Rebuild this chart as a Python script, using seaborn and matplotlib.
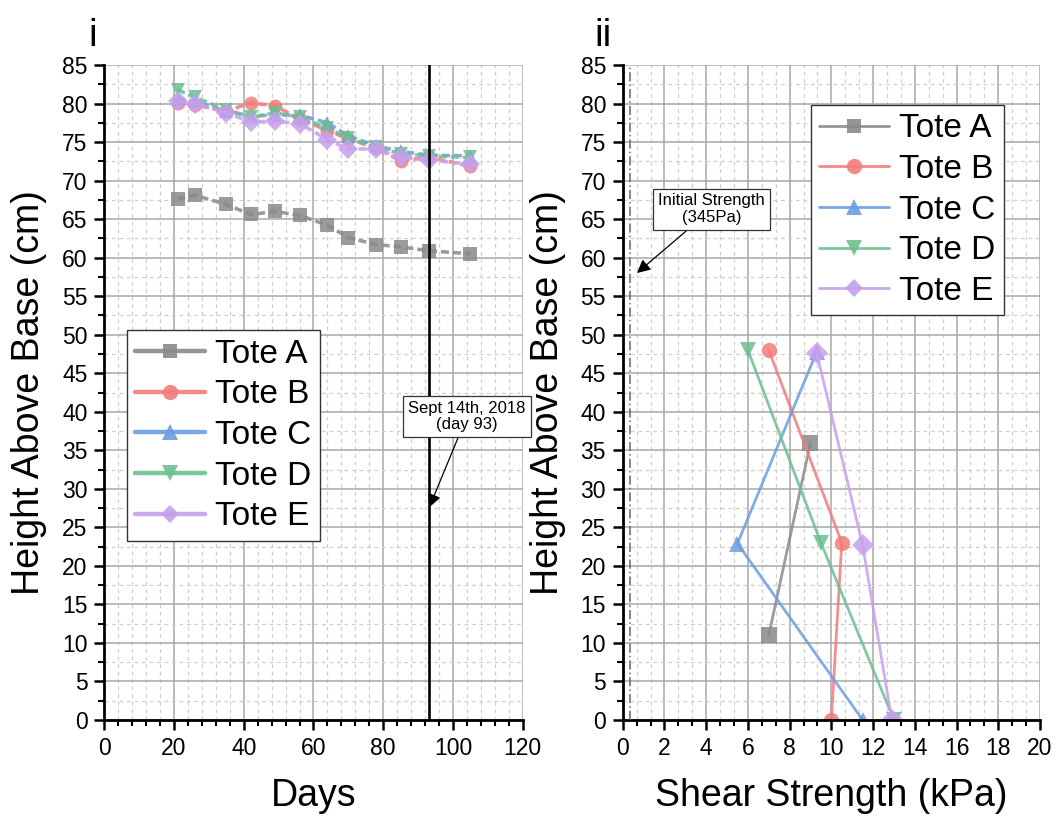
import numpy as np
import pandas as pd
import matplotlib
matplotlib.use("Agg")
import matplotlib.pyplot as plt
from matplotlib.lines import Line2D
from matplotlib.ticker import MultipleLocator, AutoMinorLocator
import seaborn as sns

# ---- data -----------------------------------------------------------------
totes = ["Tote A", "Tote B", "Tote C", "Tote D", "Tote E"]

days = [21, 26, 35, 42, 49, 56, 64, 70, 78, 85, 93, 105]
height_a = [67.6, 68.1, 66.9, 65.6, 66.0, 65.5, 64.2, 62.6, 61.7, 61.4, 60.9, 60.5]
height_b = [80.1, 79.8, 79.0, 80.1, 79.7, 78.0, 76.5, 75.4, 74.2, 72.6, 73.0, 71.9]
height_c = [80.6, 80.3, 79.0, 78.4, 78.5, 78.5, 77.5, 75.8, 74.5, 73.8, 73.3, 73.2]
height_d = [81.8, 80.8, 79.2, 78.2, 78.8, 78.2, 76.8, 75.5, 74.3, 73.5, 73.2, 73.0]
height_e = [80.3, 80.0, 78.8, 77.6, 77.7, 77.4, 75.3, 74.1, 74.1, 73.0, 72.7, 72.1]

strength_a = [7.0, 9.0]
depth_a = [11.0, 36.0]
strength_b = [7.0, 10.5, 10.0]
depth_b = [48.0, 23.0, 0.0]
strength_c = [9.3, 5.5, 11.5]
depth_c = [47.8, 22.9, 0.0]
strength_d = [6.0, 9.5, 13.0]
depth_d = [48.0, 23.0, 0.0]
strength_e = [9.3, 11.5, 12.9]
depth_e = [47.6, 22.7, 0.0]

initial_strength_kpa = 0.345
marker_day = 93

# ---- style ----------------------------------------------------------------
sns.set_theme(style="white")
plt.rcParams["font.family"] = ["Liberation Sans", "DejaVu Sans"]
plt.rcParams.update({"text.color": "black", "axes.labelcolor": "black",
                     "xtick.color": "black", "ytick.color": "black"})

colors = {"Tote A": "#8a8a8a", "Tote B": "#f27c7c", "Tote C": "#6b9ee2",
          "Tote D": "#6cbf8f", "Tote E": "#c7a0ec"}
markers = {"Tote A": "s", "Tote B": "o", "Tote C": "^", "Tote D": "v", "Tote E": "D"}
msizes = {"Tote A": 10, "Tote B": 11, "Tote C": 11, "Tote D": 11, "Tote E": 9}

growth = pd.concat([
    pd.DataFrame({"tote": t, "day": days, "height": h})
    for t, h in zip(totes, [height_a, height_b, height_c, height_d, height_e])
], ignore_index=True)

shear = pd.concat([
    pd.DataFrame({"tote": t, "strength": s, "height": d})
    for t, s, d in zip(totes,
                       [strength_a, strength_b, strength_c, strength_d, strength_e],
                       [depth_a, depth_b, depth_c, depth_d, depth_e])
], ignore_index=True)

W, H = 1059, 827
fig = plt.figure(figsize=(W / 100, H / 100), dpi=100)
ax1 = fig.add_axes([104.3 / W, 1 - 720 / H, 418.4 / W, 655 / H])
ax2 = fig.add_axes([622.7 / W, 1 - 720 / H, 417.3 / W, 655 / H])


def style_axes(ax):
    ax.set_axisbelow(True)
    ax.grid(which="major", color="#a8a8a8", lw=1.1, ls="-")
    ax.grid(which="minor", color="#cfcfcf", lw=0.9, ls=(0, (3, 3)))
    for side in ("top", "right"):
        ax.spines[side].set_visible(False)
    for side in ("left", "bottom"):
        ax.spines[side].set_color("black")
        ax.spines[side].set_linewidth(2.0)
    ax.tick_params(which="major", direction="out", length=7, width=1.8,
                   color="black", labelcolor="black", labelsize=16.5, pad=5,
                   left=True, bottom=True)
    ax.tick_params(which="minor", direction="out", length=4, width=1.5,
                   color="black", left=True, bottom=True)
    ax.set_ylim(0, 85)
    ax.yaxis.set_major_locator(MultipleLocator(5))
    ax.yaxis.set_minor_locator(AutoMinorLocator(2))
    ax.set_ylabel("Height Above Base (cm)", fontsize=27, color="black")
    ax.yaxis.set_label_coords(-0.137, 0.5)


def add_legend(ax, lw, anchor):
    handles = [Line2D([], [], color=colors[t], marker=markers[t], lw=lw,
                      ms=msizes[t], mew=0, alpha=0.9) for t in totes]
    leg = ax.legend(handles, totes, loc="upper left", bbox_to_anchor=anchor,
                    borderaxespad=0, fontsize=24, frameon=True, fancybox=False,
                    edgecolor="#333333", framealpha=1, handlelength=2.1,
                    handletextpad=0.3, labelspacing=0.29, borderpad=0.25)
    leg.get_frame().set_linewidth(1.0)
    for txt in leg.get_texts():
        txt.set_color("black")
    return leg


def add_note(ax, text, tip, center):
    ax.annotate(text, xy=tip, xytext=center, ha="center", va="center",
                fontsize=12, linespacing=1.1, color="black",
                bbox=dict(boxstyle="square,pad=0.3", fc="white", ec="#333333", lw=0.9),
                arrowprops=dict(arrowstyle="-|>", color="black", lw=0.9,
                                mutation_scale=20, shrinkA=0, shrinkB=0),
                zorder=6)


# ---- panel i: settlement over time ---------------------------------------
sns.lineplot(data=growth, x="day", y="height", hue="tote", style="tote",
             palette=colors, markers=markers,
             dashes={t: (2.2, 1.1) for t in totes},
             estimator=None, sort=False, lw=2.6, ms=10, mew=0,
             alpha=0.85, legend=False, ax=ax1)
style_axes(ax1)
ax1.set_xlim(0, 120)
ax1.xaxis.set_major_locator(MultipleLocator(20))
ax1.xaxis.set_minor_locator(AutoMinorLocator(5))
ax1.set_xlabel("Days", fontsize=27, color="black")
ax1.xaxis.set_label_coords(0.5, -0.088)

ax1.axvline(marker_day, color="black", lw=1.9, zorder=3)
add_note(ax1, "Sept 14th, 2018\n(day 93)", (93.2, 27.6), (104.0, 39.4))
add_legend(ax1, 3.2, (0.054, 0.595))

# ---- panel ii: shear strength profile ------------------------------------
sns.lineplot(data=shear, x="strength", y="height", hue="tote", style="tote",
             palette=colors, markers=markers, dashes=False,
             estimator=None, sort=False, lw=2.0, ms=11, mew=0,
             alpha=0.85, legend=False, ax=ax2)
style_axes(ax2)
ax2.set_xlim(0, 20)
ax2.xaxis.set_major_locator(MultipleLocator(2))
ax2.xaxis.set_minor_locator(AutoMinorLocator(3))
ax2.set_xlabel("Shear Strength (kPa)", fontsize=27, color="black")
ax2.xaxis.set_label_coords(0.5, -0.088)

ax2.axvline(initial_strength_kpa, color="#666666", lw=1.1, ls=(0, (6, 2, 1, 2)), zorder=3)
add_note(ax2, "Initial Strength\n(345Pa)", (0.68, 58.0), (4.27, 66.3))
add_legend(ax2, 2.0, (0.451, 0.939))

# panel labels
fig.text(88 / W, 1 - 46 / H, "i", fontsize=28, ha="left", va="baseline", color="black")
fig.text(594 / W, 1 - 46 / H, "ii", fontsize=28, ha="left", va="baseline", color="black")

fig.savefig("out.png", dpi=100)
